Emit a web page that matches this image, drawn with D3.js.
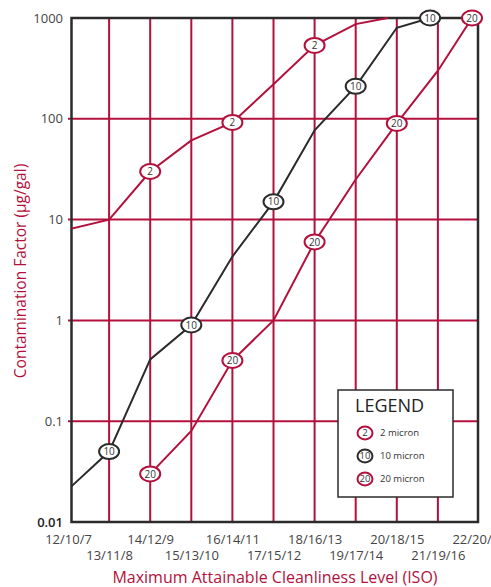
<!DOCTYPE html>
<html>
<head>
<meta charset="utf-8">
<script src="https://cdn.jsdelivr.net/npm/d3@7"></script>
<style>
  body { margin: 0; background: #fff; }
  svg { display: block; font-family: "Open Sans", sans-serif; }
</style>
</head>
<body>
<div id="chart"></div>
<script>
// categories along the bottom (ISO codes)
const categories = ["12/10/7", "13/11/8", "14/12/9", "15/13/10", "16/14/11", "17/15/12",
    "18/16/13", "19/17/14", "20/18/15", "21/19/16", "22/20/17"];
const yTicks = [0.01, 0.1, 1, 10, 100, 1000];
const yGrid = [0.1, 1, 10, 100];

// series: position is the category index (ends can fall between categories)
const micron2Pos = [0, 1, 2, 3, 4, 5, 6, 7, 7.78];
const micron2Val = [8, 10, 30, 61, 92, 220, 535, 870, 1000];
const micron2Marks = [2, 4, 6];

const micron10Pos = [0, 1, 2, 3, 4, 5, 6, 7, 8, 8.81];
const micron10Val = [0.021, 0.05, 0.41, 0.9, 4.3, 15, 77, 210, 800, 1000];
const micron10Marks = [1, 3, 5, 7, 9];

const micron20Pos = [2, 3, 4, 5, 6, 7, 8, 9, 9.83];
const micron20Val = [0.03, 0.08, 0.4, 1, 6, 25, 90, 300, 1000];
const micron20Marks = [0, 2, 4, 6, 8];

const seriesNames = ["2 micron", "10 micron", "20 micron"];
const seriesTags = ["2", "10", "20"];

const red = "#b3103d", dark = "#2b2b2b", grey = "#444";

const series = [
    {name: seriesNames[0], tag: seriesTags[0], color: red, pos: micron2Pos, val: micron2Val, marks: micron2Marks},
    {name: seriesNames[1], tag: seriesTags[1], color: dark, pos: micron10Pos, val: micron10Val, marks: micron10Marks},
    {name: seriesNames[2], tag: seriesTags[2], color: red, pos: micron20Pos, val: micron20Val, marks: micron20Marks}
];

const W = 491, H = 587;
const plotL = 71.5, plotR = 478, plotT = 18, plotB = 522;

const svg = d3.select("#chart")
    .append("svg")
    .attr("width", W)
    .attr("height", H);

const x = d3.scaleLinear().domain([0, 10]).range([68, 479]);
const y = d3.scaleLog().domain([0.01, 1000]).range([plotB, plotT]);

svg.append("defs").append("clipPath").attr("id", "plot")
    .append("rect").attr("x", plotL).attr("y", 0).attr("width", 420).attr("height", plotB + 5);

// grid lines
svg.append("g").selectAll("line")
    .data(d3.range(1, 10))
    .join("line")
    .attr("x1", d => x(d)).attr("x2", d => x(d))
    .attr("y1", plotT).attr("y2", plotB)
    .attr("stroke", red).attr("stroke-width", 2);

svg.append("g").selectAll("line")
    .data(yGrid)
    .join("line")
    .attr("x1", 68).attr("x2", plotR)
    .attr("y1", d => y(d)).attr("y2", d => y(d))
    .attr("stroke", red).attr("stroke-width", 2);

// frame
svg.append("rect")
    .attr("x", plotL).attr("y", plotT)
    .attr("width", plotR - plotL).attr("height", plotB - plotT)
    .attr("fill", "none").attr("stroke", dark).attr("stroke-width", 2.5);

// Y axis labels
const yAxis = svg.append("g")
    .attr("transform", `translate(68,0)`)
    .call(d3.axisLeft(y).tickValues(yTicks).tickSize(0).tickPadding(5)
        .tickFormat(d => d < 0.1 ? "0.01" : d < 1 ? "0.1" : d3.format("d")(d)));
yAxis.select(".domain").remove();
yAxis.selectAll("text")
    .attr("font-size", 13)
    .attr("font-family", "Open Sans")
    .attr("fill", (d) => d === 0.01 ? "#222" : grey)
    .attr("font-weight", d => d === 0.01 ? 600 : 400);

// X axis labels, staggered
const xAxis = svg.append("g")
    .attr("transform", `translate(0,${plotB})`)
    .call(d3.axisBottom(x).tickValues(d3.range(0, 11)).tickSize(0)
        .tickFormat(d => categories[d]));
xAxis.select(".domain").remove();
xAxis.selectAll("text")
    .attr("dy", 0)
    .attr("y", d => d % 2 ? 38 : 22)
    .attr("font-size", 13)
    .attr("font-family", "Open Sans")
    .attr("fill", grey);

// lines
const line = d3.line()
    .x(d => x(d[0]))
    .y(d => y(d[1]));

const lines = svg.append("g").attr("clip-path", "url(#plot)");
series.forEach(s => {
    lines.append("path")
        .datum(s.pos.map((p, i) => [p, s.val[i]]))
        .attr("d", line)
        .attr("fill", "none")
        .attr("stroke", s.color)
        .attr("stroke-width", 2);
});

// markers
series.forEach(s => {
    const g = svg.append("g");
    const m = g.selectAll("g")
        .data(s.marks)
        .join("g")
        .attr("transform", i => `translate(${x(s.pos[i])},${y(s.val[i])})`);
    m.append("ellipse")
        .attr("rx", 10).attr("ry", 7.5)
        .attr("fill", "#fff")
        .attr("stroke", s.color)
        .attr("stroke-width", 2);
    m.append("text")
        .attr("text-anchor", "middle")
        .attr("dy", "0.36em")
        .attr("font-size", 10)
        .attr("fill", "#333")
        .text(s.tag);
});

// legend
const legend = svg.append("g").attr("transform", "translate(338,390)");
legend.append("rect")
    .attr("width", 115).attr("height", 107)
    .attr("fill", "#fff").attr("stroke", dark).attr("stroke-width", 1.5);
legend.append("text")
    .attr("x", 17).attr("y", 22)
    .attr("font-size", 18)
    .attr("fill", "#222")
    .text("LEGEND");
const items = legend.selectAll("g.item")
    .data(series)
    .join("g")
    .attr("transform", (d, i) => `translate(27,${43 + i * 23})`);
items.append("ellipse")
    .attr("rx", 7.5).attr("ry", 6.5)
    .attr("fill", "#fff")
    .attr("stroke", d => d.color)
    .attr("stroke-width", 2);
items.append("text")
    .attr("text-anchor", "middle")
    .attr("dy", "0.36em")
    .attr("font-size", 9.5)
    .attr("fill", "#333")
    .text(d => d.tag);
items.append("text")
    .attr("x", 15)
    .attr("dy", "0.36em")
    .attr("font-size", 9.5)
    .attr("fill", "#333")
    .text(d => d.name);

// axis titles
svg.append("text")
    .attr("transform", "translate(26,271) rotate(-90)")
    .attr("text-anchor", "middle")
    .attr("font-size", 15.5)
    .attr("fill", red)
    .text("Contamination Factor (µg/gal)");

svg.append("text")
    .attr("x", 275).attr("y", 583)
    .attr("text-anchor", "middle")
    .attr("font-size", 16)
    .attr("fill", red)
    .text("Maximum Attainable Cleanliness Level (ISO)");
</script>
</body>
</html>
